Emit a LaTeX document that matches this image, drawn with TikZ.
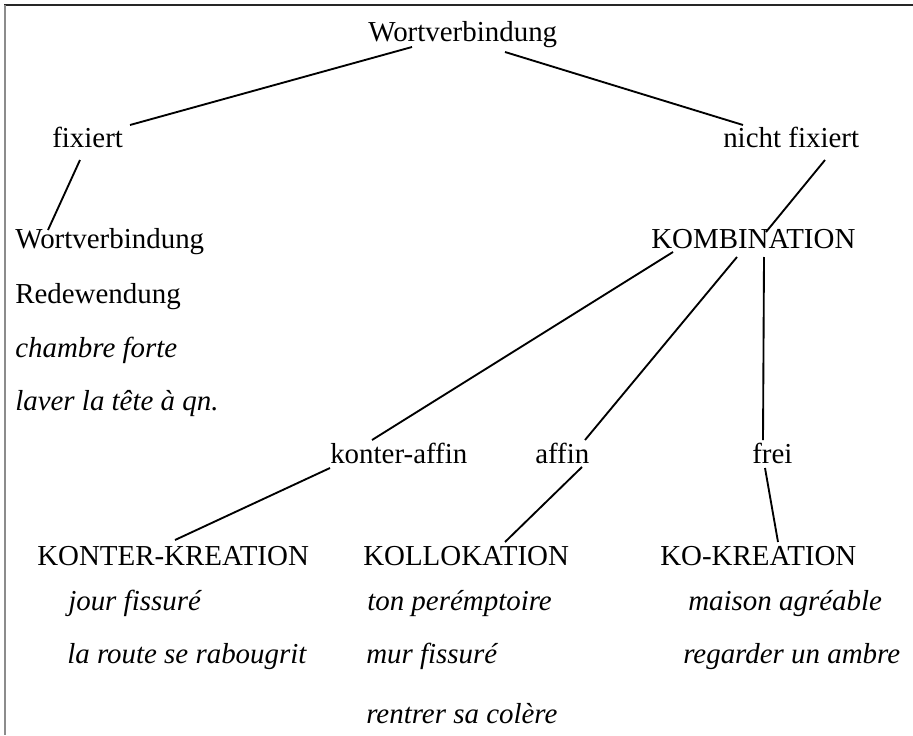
\documentclass[tikz,border=0pt]{standalone}
\usepackage{fontspec}
\setmainfont{Liberation Serif}
\usepackage{tikz}
\usetikzlibrary{positioning}

\begin{document}
\begin{tikzpicture}[x=0.75pt, y=-0.75pt]
		\tikzstyle{term} = [font=\fontsize{21.7}{26}\selectfont, inner sep=0pt, anchor=base west]
		\tikzstyle{sample} = [term, font=\fontsize{21.7}{26}\selectfont\itshape]
		\tikzstyle{edge} = [line width=1.4pt, black]
		\useasboundingbox (0,0) rectangle (913,735);
		\draw [line width=1.6pt, black!85] (4,5) -- (913,5);
		\draw [line width=1.6pt, black!45] (5,5) -- (5,735);
		% tree
		\node (root) [term] at (368,42) {Wortverbindung};
		\node (fixed) [term] at (52,147) {fixiert};
		\node (notFixed) [term] at (723,147) {nicht fixiert};
		\node (phrase) [term] at (15,248) {Wortverbindung};
		\node (idiom) [term] at (15,303) {Redewendung};
		\node (sample1) [sample] at (15,357) {chambre forte};
		\node (sample2) [sample] at (15,410) {laver la tête à qn.};
		\node (combination) [term] at (651,248) {KOMBINATION};
		\node (counterAffine) [term] at (330,463) {konter-affin};
		\node (affine) [term] at (535,463) {affin};
		\node (free) [term] at (752,463) {frei};
		\node (counterCreation) [term] at (37,565) {KONTER-KREATION};
		\node (collocation) [term] at (363,565) {KOLLOKATION};
		\node (coCreation) [term] at (660,565) {KO-KREATION};
		\node (sample3) [sample] at (68,610) {jour fissuré};
		\node (sample4) [sample] at (67,663) {la route se rabougrit};
		\node (sample5) [sample] at (367,610) {ton perémptoire};
		\node (sample6) [sample] at (366,663) {mur fissuré};
		\node (sample7) [sample] at (366,723) {rentrer sa colère};
		\node (sample8) [sample] at (688,610) {maison agréable};
		\node (sample9) [sample] at (683,663) {regarder un ambre};
		% connectors
		\draw [edge] ([shift={(44,5)}]root.base west) -- ([shift={(78,-22)}]fixed.base west);
		\draw [edge] ([shift={(137,10)}]root.base west) -- ([shift={(20,-22)}]notFixed.base west);
		\draw [edge] ([shift={(28,13)}]fixed.base west) -- ([shift={(33,-18)}]phrase.base west);
		\draw [edge] ([shift={(102,13)}]notFixed.base west) -- ([shift={(115,-16)}]combination.base west);
		\draw [edge] ([shift={(22,4)}]combination.base west) -- ([shift={(42,-23)}]counterAffine.base west);
		\draw [edge] ([shift={(86,9)}]combination.base west) -- ([shift={(50,-23)}]affine.base west);
		\draw [edge] ([shift={(113,9)}]combination.base west) -- ([shift={(11,-23)}]free.base west);
		\draw [edge] ([shift={(0,5)}]counterAffine.base west) -- ([shift={(138,-25)}]counterCreation.base west);
		\draw [edge] ([shift={(47,4)}]affine.base west) -- ([shift={(142,-23)}]collocation.base west);
		\draw [edge] ([shift={(13,5)}]free.base west) -- ([shift={(118,-23)}]coCreation.base west);
\end{tikzpicture}
\end{document}
